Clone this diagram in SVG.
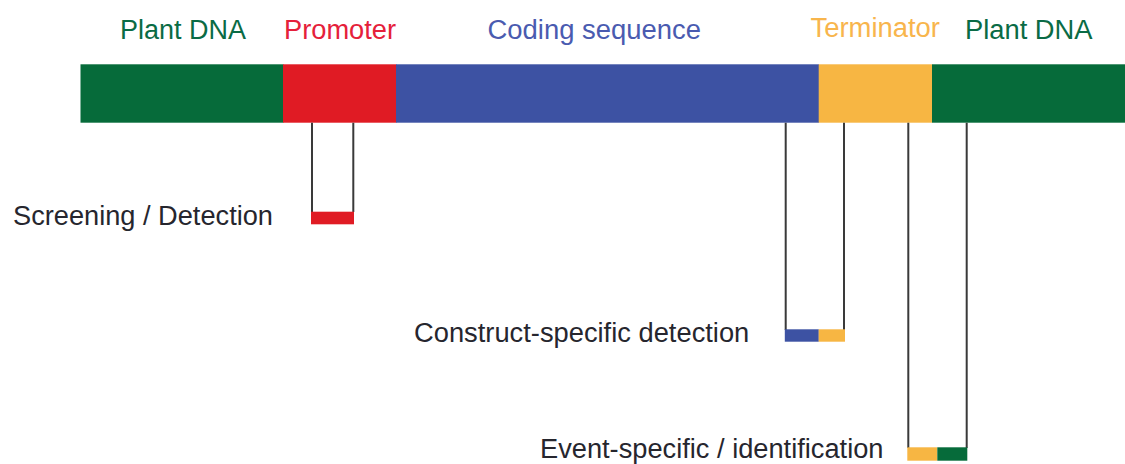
<svg xmlns="http://www.w3.org/2000/svg" width="1125" height="464" viewBox="0 0 1125 464">
<style>
text{font-family:"Liberation Sans",Arial,sans-serif;font-size:27px}
.lbl{fill:#26262e}
.g{fill:#066b3a}.r{fill:#e01b24}.b{fill:#3d52a3}.y{fill:#f7b643}
.tg{fill:#0a6b45}.tr{fill:#e5203a}.tb{fill:#4a5bb0}.ty{fill:#f8b54c}
.ln{stroke:#3a3a3a;stroke-width:2;fill:none}
</style>
<rect width="1125" height="464" fill="#ffffff"/>
<g id="dna-bar">
<rect class="g" x="80.5" y="64.3" width="203" height="58.4"/>
<rect class="r" x="283" y="64.3" width="113.5" height="58.4"/>
<rect class="b" x="396" y="64.3" width="423" height="58.4"/>
<rect class="y" x="818.7" y="64.3" width="113.5" height="58.4"/>
<rect class="g" x="932" y="64.3" width="193" height="58.4"/>
</g>
<g id="region-labels">
<text class="tg" x="120" y="39.3" textLength="126" lengthAdjust="spacingAndGlyphs">Plant DNA</text>
<text class="tr" x="284" y="39.3" textLength="112" lengthAdjust="spacingAndGlyphs">Promoter</text>
<text class="tb" x="487.5" y="39.3" textLength="213.5" lengthAdjust="spacingAndGlyphs">Coding sequence</text>
<text class="ty" x="810.5" y="37.3" textLength="129.5" lengthAdjust="spacingAndGlyphs">Terminator</text>
<text class="tg" x="965" y="39.3" textLength="127.5" lengthAdjust="spacingAndGlyphs">Plant DNA</text>
</g>
<g id="connectors">
<path class="ln" d="M312 122.7V212M353.3 122.7V212"/>
<path class="ln" d="M785.7 122.7V330M844 122.7V330"/>
<path class="ln" d="M908.3 122.7V448M966.7 122.7V448"/>
</g>
<g id="screening">
<rect class="r" x="311" y="211.7" width="43" height="12.6"/>
<text class="lbl" x="13" y="224.5" textLength="260" lengthAdjust="spacingAndGlyphs">Screening / Detection</text>
</g>
<g id="construct-specific">
<rect class="b" x="784.8" y="329.3" width="34" height="12.4"/>
<rect class="y" x="818.7" y="329.3" width="26.3" height="12.4"/>
<text class="lbl" x="414" y="341.7" textLength="335.3" lengthAdjust="spacingAndGlyphs">Construct-specific detection</text>
</g>
<g id="event-specific">
<rect class="y" x="907.3" y="447.3" width="30" height="13.4"/>
<rect class="g" x="937.3" y="447.3" width="30" height="13.4"/>
<text class="lbl" x="540" y="458" textLength="343.5" lengthAdjust="spacingAndGlyphs">Event-specific / identification</text>
</g>
</svg>
